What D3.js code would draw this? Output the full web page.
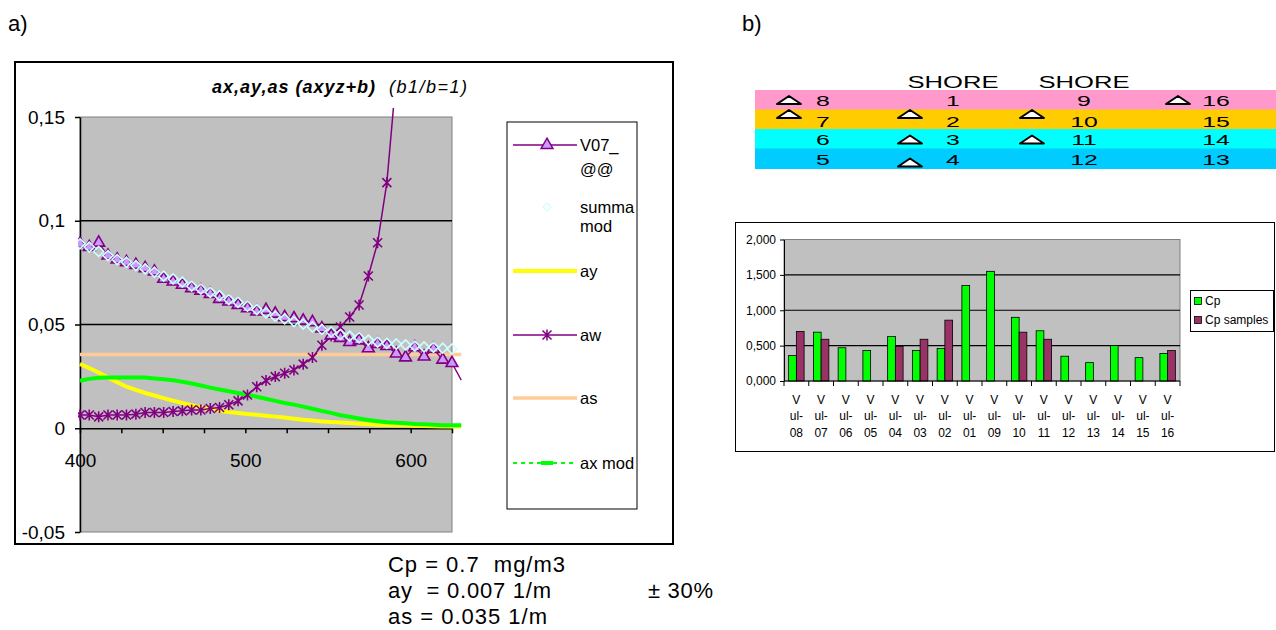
<!DOCTYPE html>
<html>
<head>
<meta charset="utf-8">
<script src="https://cdn.jsdelivr.net/npm/d3@7"></script>
<style>
  body { margin: 0; background: #fff; }
  svg { font-family: "Liberation Sans", Arial, sans-serif; }
</style>
</head>
<body>
<svg id="chart" width="1276" height="630"></svg>
<script>
// ---------- panel a) absorption spectra ----------
const wavelengths = [400, 405.6, 411.3, 416.9, 422.5, 428.1, 433.8, 439.4, 445, 450.6,
  456.3, 461.9, 467.5, 473.1, 478.8, 484.4, 490, 495.6, 501.3, 506.9,
  512.5, 518.1, 523.8, 529.4, 535, 540.6, 546.3, 551.9, 557.5, 563.1,
  568.8, 574.4, 580, 585.6, 591.3, 596.9, 602.5, 608.1, 613.8, 619.4, 625, 630.6]

const v07 = [0.0889, 0.0873, 0.0894, 0.0832, 0.0813, 0.0800, 0.0787, 0.0771, 0.0755, 0.0720,
  0.0707, 0.0691, 0.0675, 0.0663, 0.0647, 0.0623, 0.0610, 0.0594, 0.0578, 0.0562,
  0.0570, 0.0552, 0.0535, 0.0530, 0.0518, 0.0511, 0.0481, 0.0447, 0.0435, 0.0415,
  0.0423, 0.0385, 0.0406, 0.0396, 0.0360, 0.0341, 0.0390, 0.0345, 0.0382, 0.0330, 0.0314, 0.0232]

const summaMod = [0.0889, 0.0873, 0.0852, 0.0832, 0.0813, 0.0800, 0.0784, 0.0768, 0.0752, 0.0733,
  0.0720, 0.0704, 0.0685, 0.0671, 0.0655, 0.0639, 0.0620, 0.0607, 0.0588, 0.0572,
  0.0556, 0.0540, 0.0527, 0.0514, 0.0502, 0.0488, 0.0476, 0.0464, 0.0452, 0.0444,
  0.0436, 0.0425, 0.0415, 0.0409, 0.0406, 0.0402, 0.0396, 0.0392, 0.0390, 0.0386, 0.0382]

const ay = [0.0310, 0.0290, 0.0268, 0.0245, 0.0222, 0.0200, 0.0185, 0.0170, 0.0158, 0.0145,
  0.0133, 0.0122, 0.0111, 0.0100, 0.0091, 0.0084, 0.0078, 0.0073, 0.0069, 0.0065,
  0.0060, 0.0056, 0.0052, 0.0046, 0.0041, 0.0037, 0.0033, 0.0030, 0.0028, 0.0025,
  0.0022, 0.0019, 0.0017, 0.0016, 0.0015, 0.0014, 0.0012, 0.0011, 0.0010, 0.0009, 0.0008, 0.0008]

const aw = [0.0064, 0.0064, 0.0055, 0.0064, 0.0064, 0.0064, 0.0068, 0.0076, 0.0076, 0.0076,
  0.0081, 0.0084, 0.0088, 0.0088, 0.0095, 0.0100, 0.0113, 0.0132, 0.0160, 0.0200,
  0.0230, 0.0249, 0.0265, 0.0281, 0.0309, 0.0341, 0.0400, 0.0444, 0.0488, 0.0536,
  0.0594, 0.0734, 0.0894, 0.1184, 0.1700, 0.2400, 0.3300, 0.4500, 0.6000, 0.8000, 1.0000, 1.2000]

const as = [0.0355, 0.0355, 0.0355, 0.0355, 0.0355, 0.0355, 0.0355, 0.0355, 0.0355, 0.0355,
  0.0355, 0.0355, 0.0355, 0.0355, 0.0355, 0.0355, 0.0355, 0.0355, 0.0355, 0.0355,
  0.0355, 0.0355, 0.0355, 0.0355, 0.0355, 0.0355, 0.0355, 0.0355, 0.0355, 0.0355,
  0.0355, 0.0355, 0.0355, 0.0355, 0.0355, 0.0355, 0.0355, 0.0355, 0.0355, 0.0355, 0.0355, 0.0355]

const axMod = [0.0229, 0.0238, 0.0243, 0.0245, 0.0245, 0.0245, 0.0245, 0.0244, 0.0240, 0.0236,
  0.0231, 0.0224, 0.0216, 0.0206, 0.0196, 0.0187, 0.0178, 0.0170, 0.0161, 0.0152,
  0.0142, 0.0132, 0.0122, 0.0114, 0.0104, 0.0094, 0.0083, 0.0074, 0.0063, 0.0055,
  0.0047, 0.0040, 0.0034, 0.0029, 0.0026, 0.0024, 0.0021, 0.0019, 0.0017, 0.0015, 0.0014, 0.0014]

const xTicksA = [400, 425, 450, 475, 500, 525, 550, 575, 600, 625]
const xLabelsA = [400, 500, 600]
const yTicksA = [-0.05, 0, 0.05, 0.1, 0.15]
const legendA = [["V07_", "@@"], ["summa", "mod"], ["ay"], ["aw"], ["as"], ["ax mod"]]
const notes = ["Cp = 0.7  mg/m3", "ay  = 0.007 1/m", "as = 0.035 1/m"]
const noteSide = "± 30%"

// ---------- panel b) station table ----------
const shoreLabels = ["SHORE", "SHORE"]
const tableColors = ["#ff99cc", "#ffcc00", "#00ffff", "#00ccff"]
const tableNumbers = [["8", "1", "9", "16"], ["7", "2", "10", "15"], ["6", "3", "11", "14"], ["5", "4", "12", "13"]]
const tableTriangles = [[1, 0, 0, 1], [1, 1, 1, 0], [0, 1, 1, 0], [0, 1, 0, 0]]

// ---------- panel b) Cp bar chart ----------
const stations = ["Vul-08", "Vul-07", "Vul-06", "Vul-05", "Vul-04", "Vul-03", "Vul-02", "Vul-01",
  "Vul-09", "Vul-10", "Vul-11", "Vul-12", "Vul-13", "Vul-14", "Vul-15", "Vul-16"]
const cp = [0.36, 0.69, 0.47, 0.43, 0.63, 0.43, 0.46, 1.35, 1.55, 0.90, 0.71, 0.35, 0.26, 0.50, 0.33, 0.39]
const cpSamples = [0.70, 0.59, null, null, 0.49, 0.59, 0.86, null, null, 0.69, 0.59, null, null, null, null, 0.43]
const yTicksB = [0, 0.5, 1, 1.5, 2]
const seriesB = ["Cp", "Cp samples"]

const svg = d3.select("#chart")
const comma = s => String(s).replace(".", ",")

svg.append("text").attr("x", 8).attr("y", 31).attr("font-size", 22).text("a)")
svg.append("text").attr("x", 742).attr("y", 31).attr("font-size", 22).text("b)")

// ================= panel a =================
svg.append("rect")
    .attr("x", 15).attr("y", 62).attr("width", 658).attr("height", 482)
    .attr("fill", "#fff").attr("stroke", "#000").attr("stroke-width", 2)

const xA = d3.scaleLinear().domain([400, 625]).range([80, 452])
const yA = d3.scaleLinear().domain([-0.05, 0.15]).range([532, 117])

svg.append("rect")
    .attr("x", xA(400)).attr("y", yA(0.15))
    .attr("width", xA(625) - xA(400)).attr("height", yA(-0.05) - yA(0.15))
    .attr("fill", "#c0c0c0").attr("stroke", "#808080")

svg.append("g").selectAll("line")
    .data([0.1, 0.05])
    .join("line")
    .attr("x1", xA(400)).attr("x2", xA(625))
    .attr("y1", d => yA(d)).attr("y2", d => yA(d))
    .attr("stroke", "#000").attr("stroke-width", 1.5)

const yAxisA = d3.axisLeft(yA).tickValues(yTicksA).tickSize(5).tickSizeOuter(0)
    .tickPadding(10).tickFormat(d => comma(d))
svg.append("g").attr("transform", `translate(${xA(400)},0)`).call(yAxisA)
    .call(g => g.selectAll("text").attr("font-size", 19).attr("fill", "#000").attr("font-family", null))
    .call(g => g.selectAll("path,line").attr("stroke", "#000").attr("stroke-width", 1.5))

const xAxisA = d3.axisBottom(xA).tickValues(xTicksA).tickSize(5).tickSizeOuter(0)
    .tickPadding(20).tickFormat(d => xLabelsA.includes(d) ? d : "")
svg.append("g").attr("transform", `translate(0,${yA(0)})`).call(xAxisA)
    .call(g => g.selectAll("text").attr("font-size", 19).attr("fill", "#000").attr("font-family", null))
    .call(g => g.selectAll("path,line").attr("stroke", "#000").attr("stroke-width", 1.5))

svg.append("clipPath").attr("id", "clipA")
    .append("rect").attr("x", 78).attr("y", 108).attr("width", 392).attr("height", 430)

const series = svg.append("g").attr("clip-path", "url(#clipA)")
const lineA = d3.line()
    .defined(d => d != null)
    .x((d, i) => xA(wavelengths[i]))
    .y(d => yA(d))

series.append("path").attr("d", lineA(as))
    .attr("fill", "none").attr("stroke", "#ffcc99").attr("stroke-width", 3.5)
series.append("path").attr("d", lineA(ay))
    .attr("fill", "none").attr("stroke", "#ffff00").attr("stroke-width", 4)
series.append("path").attr("d", lineA(axMod))
    .attr("fill", "none").attr("stroke", "#00ff00").attr("stroke-width", 4)

const asterisk = "M-4.5,-4.5L4.5,4.5M-4.5,4.5L4.5,-4.5M0,-5.5L0,5.5"
const diamond = "M0,-5L5,0L0,5L-5,0Z"
const triangle = d3.symbol(d3.symbolTriangle, 60)

series.append("path").attr("d", lineA(aw))
    .attr("fill", "none").attr("stroke", "#800080").attr("stroke-width", 1.5)
series.append("g").selectAll("path")
    .data(aw.map((v, i) => [wavelengths[i], v]).filter(d => d[0] <= 625))
    .join("path")
    .attr("transform", d => `translate(${xA(d[0])},${yA(d[1])})`)
    .attr("d", asterisk)
    .attr("fill", "none").attr("stroke", "#800080").attr("stroke-width", 1.6)

series.append("path").attr("d", lineA(v07))
    .attr("fill", "none").attr("stroke", "#800080").attr("stroke-width", 1.3)
series.append("g").selectAll("path")
    .data(v07.map((v, i) => [wavelengths[i], v]).filter(d => d[0] <= 625))
    .join("path")
    .attr("transform", d => `translate(${xA(d[0])},${yA(d[1])})`)
    .attr("d", triangle)
    .attr("fill", "#cc99ff").attr("stroke", "#800080").attr("stroke-width", 1.6)

series.append("g").selectAll("path")
    .data(summaMod.map((v, i) => [wavelengths[i], v]))
    .join("path")
    .attr("transform", d => `translate(${xA(d[0])},${yA(d[1])})`)
    .attr("d", diamond)
    .attr("fill", "none").attr("stroke", "#ccffff").attr("stroke-width", 1.6)

// title
svg.append("text").attr("x", 212).attr("y", 93)
    .attr("font-size", 18).attr("font-weight", "bold").attr("font-style", "italic")
    .attr("textLength", 163).text("ax,ay,as (axyz+b)")
svg.append("text").attr("x", 389).attr("y", 93)
    .attr("font-size", 18).attr("font-style", "italic")
    .attr("textLength", 78).text("(b1/b=1)")

// legend
svg.append("rect").attr("x", 507).attr("y", 122).attr("width", 130).attr("height", 387)
    .attr("fill", "#fff").attr("stroke", "#000")

const legendY = [145, 207, 271, 335, 398, 463]
const legendLineGap = [24, 19, 0, 0, 0, 0]
const leg = svg.append("g")
legendA.forEach((lines, i) => {
    const yy = legendY[i]
    lines.forEach((t, j) => {
        leg.append("text").attr("x", 580).attr("y", yy + j * legendLineGap[i])
            .attr("dominant-baseline", "central").attr("font-size", 16.5).text(t)
    })
})
const legLine = (yy, color, w, dash) => leg.append("line")
    .attr("x1", 513).attr("x2", 577).attr("y1", yy).attr("y2", yy)
    .attr("stroke", color).attr("stroke-width", w).attr("stroke-dasharray", dash)
legLine(legendY[0], "#800080", 1.3, null)
leg.append("path").attr("transform", `translate(547,${legendY[0]})`).attr("d", triangle)
    .attr("fill", "#cc99ff").attr("stroke", "#800080").attr("stroke-width", 1.5)
leg.append("path").attr("transform", `translate(547,${legendY[1]}) scale(0.8)`).attr("d", diamond)
    .attr("fill", "none").attr("stroke", "#ccffff").attr("stroke-width", 1.5)
legLine(legendY[2], "#ffff00", 4, null)
legLine(legendY[3], "#800080", 1.5, null)
leg.append("path").attr("transform", `translate(547,${legendY[3]})`).attr("d", asterisk)
    .attr("fill", "none").attr("stroke", "#800080").attr("stroke-width", 1.5)
legLine(legendY[4], "#ffcc99", 3.5, null)
legLine(legendY[5], "#00ff00", 2, "4,4")
leg.append("rect").attr("x", 541).attr("y", legendY[5] - 2).attr("width", 12).attr("height", 4)
    .attr("fill", "#00ff00")

// notes below panel a
notes.forEach((t, i) => {
    svg.append("text").attr("x", 388).attr("y", 572 + i * 26)
        .attr("font-size", 22).style("white-space", "pre")
        .attr("textLength", [177, 163, 159][i]).text(t)
})
svg.append("text").attr("x", 648).attr("y", 598)
    .attr("font-size", 22).attr("textLength", 65).text(noteSide)

// ================= panel b table =================
const colX = [823, 953, 1084, 1216]
const triX = [789, 910, 1032, 1178]
const rowTop = [90, 109.5, 129, 148.5]
const rowH = 20
const triDy = [0, -5.5, 0.5, 4]
const tbl = svg.append("g")

shoreLabels.forEach((t, i) => {
    tbl.append("text").attr("transform", `translate(${colX[i + 1]},88) scale(1.6,1)`)
        .attr("text-anchor", "middle").attr("font-size", 16).text(t)
})
tableColors.forEach((c, r) => {
    tbl.append("rect").attr("x", 755).attr("y", rowTop[r]).attr("width", 521).attr("height", rowH + 0.5)
        .attr("fill", c)
})
tableNumbers.forEach((row, r) => {
    const cy = rowTop[r] + rowH / 2
    row.forEach((n, c) => {
        tbl.append("text").attr("transform", `translate(${colX[c]},${cy + 6 + (r === 1 ? 1.5 : 0)}) scale(1.6,1)`)
            .attr("text-anchor", "middle").attr("font-size", 15.5).text(n)
        if (tableTriangles[r][c]) {
            const ty = cy + triDy[r]
            tbl.append("path")
                .attr("d", `M${triX[c] - 12},${ty + 4}L${triX[c]},${ty - 4}L${triX[c] + 12},${ty + 4}Z`)
                .attr("fill", "#fff").attr("stroke", "#000").attr("stroke-width", 2)
                .attr("stroke-linejoin", "round")
        }
    })
})

// ================= panel b bar chart =================
svg.append("rect")
    .attr("x", 735.5).attr("y", 222.5).attr("width", 539).attr("height", 229)
    .attr("fill", "#fff").attr("stroke", "#000")

const xB = d3.scaleBand().domain(stations).range([784, 1180]).padding(0)
const xSub = d3.scaleBand().domain(seriesB).range([0, xB.bandwidth()]).paddingInner(0).paddingOuter(0.6)
const yB = d3.scaleLinear().domain([0, 2]).range([381, 239.5])

svg.append("rect")
    .attr("x", 784).attr("y", yB(2)).attr("width", 396).attr("height", yB(0) - yB(2))
    .attr("fill", "#c0c0c0").attr("stroke", "#808080")

svg.append("g").selectAll("line")
    .data([0.5, 1, 1.5])
    .join("line")
    .attr("x1", 784).attr("x2", 1180)
    .attr("y1", d => yB(d)).attr("y2", d => yB(d))
    .attr("stroke", "#000").attr("stroke-width", 1.2)

const barData = stations.flatMap((s, i) => [
    { s, k: seriesB[0], v: cp[i], c: "#00ff00" },
    { s, k: seriesB[1], v: cpSamples[i], c: "#993366" }
]).filter(d => d.v != null)

svg.append("g").selectAll("rect")
    .data(barData)
    .join("rect")
    .attr("x", d => xB(d.s) + xSub(d.k))
    .attr("y", d => yB(d.v))
    .attr("width", xSub.bandwidth())
    .attr("height", d => yB(0) - yB(d.v))
    .attr("fill", d => d.c).attr("stroke", "#000").attr("stroke-width", 0.8)

const yAxisB = d3.axisLeft(yB).tickValues(yTicksB).tickSize(4).tickSizeOuter(0)
    .tickPadding(4).tickFormat(d => comma(d3.format(".3f")(d)))
svg.append("g").attr("transform", "translate(784,0)").call(yAxisB)
    .call(g => g.selectAll("text").attr("font-size", 12).attr("fill", "#000").attr("font-family", null))
    .call(g => g.selectAll("path,line").attr("stroke", "#000"))

svg.append("line").attr("x1", 784).attr("x2", 1180).attr("y1", yB(0)).attr("y2", yB(0))
    .attr("stroke", "#000")
svg.append("g").selectAll("line")
    .data(stations.map(s => xB(s)).concat([1180]))
    .join("line")
    .attr("x1", d => d).attr("x2", d => d).attr("y1", yB(0)).attr("y2", yB(0) + 5)
    .attr("stroke", "#000")

const xLab = svg.append("g").attr("font-size", 12).attr("text-anchor", "middle")
stations.forEach(s => {
    const cx = xB(s) + xB.bandwidth() / 2
    const parts = [s.slice(0, 1), s.slice(1, 4), s.slice(4)]
    parts.forEach((p, j) => {
        xLab.append("text").attr("x", cx).attr("y", 403.5 + j * 16.5).text(p)
    })
})

// legend bar chart
svg.append("rect").attr("x", 1190.5).attr("y", 290.5).attr("width", 83).attr("height", 41)
    .attr("fill", "#fff").attr("stroke", "#000")
seriesB.forEach((t, i) => {
    svg.append("rect").attr("x", 1194.5).attr("y", 297.5 + i * 19).attr("width", 7).attr("height", 7)
        .attr("fill", i === 0 ? "#00ff00" : "#993366").attr("stroke", "#000").attr("stroke-width", 0.8)
    svg.append("text").attr("x", 1205).attr("y", 301 + i * 19).attr("dominant-baseline", "central")
        .attr("font-size", 12).text(t)
})
</script>
</body>
</html>
